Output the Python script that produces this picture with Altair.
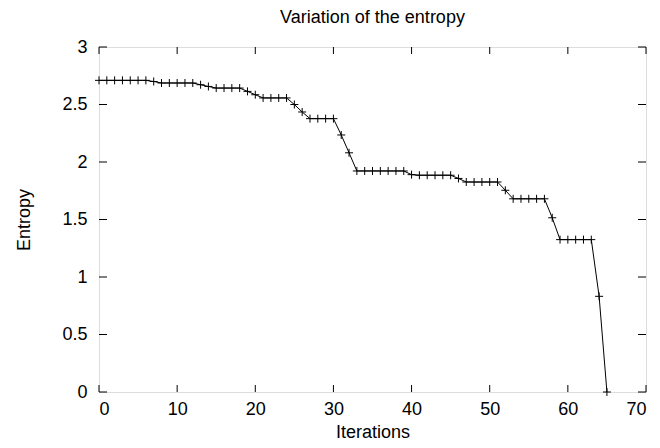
import altair as alt
import pandas as pd

# ---- data ----
iterations = list(range(66))
entropy = [
    2.71, 2.71, 2.71, 2.71, 2.71, 2.71, 2.71,          # 0-6
    2.70,                                              # 7
    2.687, 2.687, 2.687, 2.687, 2.687,                 # 8-12
    2.672, 2.657,                                      # 13-14
    2.643, 2.643, 2.643, 2.643,                        # 15-18
    2.614, 2.585,                                      # 19-20
    2.557, 2.557, 2.557, 2.557,                        # 21-24
    2.50, 2.435,                                       # 25-26
    2.377, 2.377, 2.377, 2.377,                        # 27-30
    2.235, 2.08,                                       # 31-32
    1.922, 1.922, 1.922, 1.922, 1.922, 1.922, 1.922,   # 33-39
    1.89,                                              # 40
    1.885, 1.885, 1.885, 1.885, 1.885,                 # 41-45
    1.857,                                             # 46
    1.826, 1.826, 1.826, 1.826, 1.826,                 # 47-51
    1.754,                                             # 52
    1.68, 1.68, 1.68, 1.68, 1.68,                      # 53-57
    1.515,                                             # 58
    1.325, 1.325, 1.325, 1.325, 1.325,                 # 59-63
    0.832,                                             # 64
    0.0,                                               # 65
]
x_ticks = [0, 10, 20, 30, 40, 50, 60, 70]
y_ticks = [0, 0.5, 1, 1.5, 2, 2.5, 3]

title_text = "Variation of the entropy"
x_title = "Iterations"
y_title = "Entropy"

W, H = 547, 345
FONT = "Liberation Sans"
FS = 18

df = pd.DataFrame({"iter": iterations, "entropy": entropy})
xt = pd.DataFrame({"xt": x_ticks})
yt = pd.DataFrame({"yt": y_ticks})

x_scale = alt.Scale(domain=[0, 70], nice=False, zero=False)
y_scale = alt.Scale(domain=[0, 3], nice=False, zero=False)

x_axis = alt.Axis(values=x_ticks, domain=False, ticks=False, grid=False,
                  labelFont=FONT, labelFontSize=FS, labelColor="black",
                  labelPadding=8, titleFont=FONT, titleFontSize=FS,
                  titleFontWeight="normal", titleColor="black", titlePadding=5,
                  format="d")
y_axis = alt.Axis(values=y_ticks, domain=False, ticks=False, grid=False,
                  labelFont=FONT, labelFontSize=FS, labelColor="black",
                  labelPadding=12, titleFont=FONT, titleFontSize=FS,
                  titleFontWeight="normal", titleColor="black", titlePadding=28,
                  format="~f")


def X(field):
    return alt.X(f"{field}:Q", scale=x_scale, axis=x_axis, title=x_title)


def Y(field):
    return alt.Y(f"{field}:Q", scale=y_scale, axis=y_axis, title=y_title)


line = alt.Chart(df).mark_line(color="black", strokeWidth=1).encode(
    x=X("iter"), y=Y("entropy"))

points = alt.Chart(df).mark_point(
    shape="M-1,0L1,0M0,-1L0,1", filled=False, stroke="black",
    strokeWidth=1, size=64, opacity=1).encode(x=X("iter"), y=Y("entropy"))

tick_style = dict(color="black", strokeWidth=1)
bottom_ticks = alt.Chart(xt).mark_rule(**tick_style).encode(
    x=X("xt"), y=alt.value(H), y2=alt.value(H - 7))
top_ticks = alt.Chart(xt).mark_rule(**tick_style).encode(
    x=X("xt"), y=alt.value(0), y2=alt.value(7))
left_ticks = alt.Chart(yt).mark_rule(**tick_style).encode(
    y=Y("yt"), x=alt.value(0), x2=alt.value(8))
right_ticks = alt.Chart(yt).mark_rule(**tick_style).encode(
    y=Y("yt"), x=alt.value(W), x2=alt.value(W - 8))

chart = alt.layer(
    bottom_ticks, top_ticks, left_ticks, right_ticks, line, points
).properties(
    width=W, height=H,
    title=alt.TitleParams(title_text, font=FONT, fontSize=FS,
                          fontWeight="normal", color="black", offset=11,
                          anchor="middle"),
    autosize=alt.AutoSizeParams(type="none"),
    padding={"left": 91, "top": 39, "right": 6, "bottom": 48},
).configure_view(
    stroke="black", strokeWidth=1
).configure(background="white")

chart.save("out.html", embed_options={"renderer": "svg", "actions": False})
